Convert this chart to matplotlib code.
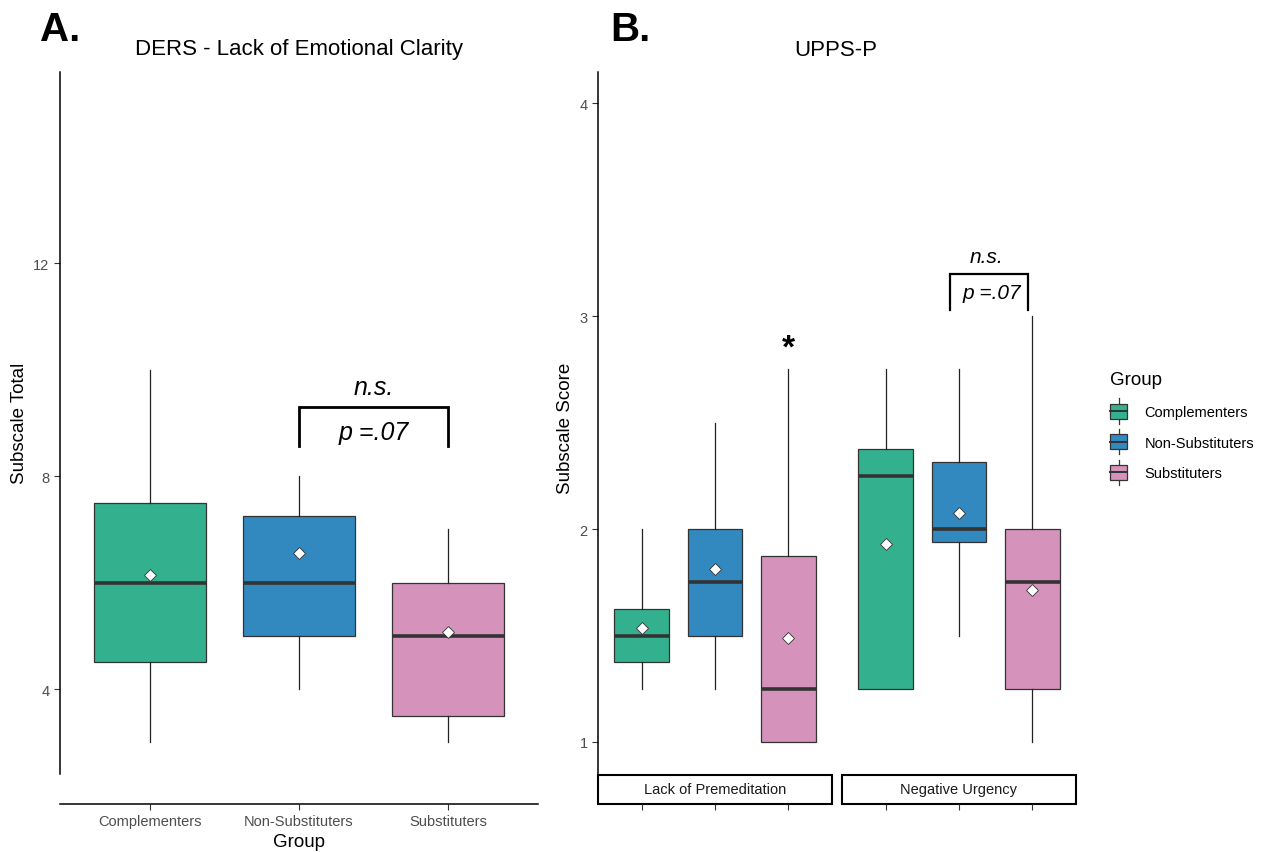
import matplotlib
matplotlib.use("Agg")
import matplotlib.pyplot as plt
from matplotlib.patches import Rectangle, Patch
from matplotlib.lines import Line2D
from matplotlib.legend_handler import HandlerBase

plt.rcParams['font.family'] = ['Liberation Sans', 'DejaVu Sans']

groups = ["Complementers", "Non-Substituters", "Substituters"]
colors = ["#33B08D", "#3189C0", "#D592BA"]

# panel A: DERS - Lack of Emotional Clarity (q1, median, q3, whisker low, whisker high, mean)
ders_q1 = [4.5, 5.0, 3.5]
ders_med = [6.0, 6.0, 5.0]
ders_q3 = [7.5, 7.25, 6.0]
ders_lo = [3.0, 4.0, 3.0]
ders_hi = [10.0, 8.0, 7.0]
ders_mean = [6.14, 6.55, 5.08]

# panel B: UPPS-P facets
facets = ["Lack of Premeditation", "Negative Urgency"]
upps_q1 = [[1.375, 1.5, 1.0], [1.25, 1.9375, 1.25]]
upps_med = [[1.5, 1.75, 1.25], [2.25, 2.0, 1.75]]
upps_q3 = [[1.625, 2.0, 1.875], [2.375, 2.3125, 2.0]]
upps_lo = [[1.25, 1.25, 1.0], [1.25, 1.5, 1.0]]
upps_hi = [[2.0, 2.5, 2.75], [2.75, 2.75, 3.0]]
upps_mean = [[1.535, 1.81, 1.49], [1.93, 2.075, 1.715]]

W, H = 1262, 853
fig = plt.figure(figsize=(W / 100, H / 100), dpi=100)

def px(x0, y_top, x1, y_bot):
    return [x0 / W, 1 - y_bot / H, (x1 - x0) / W, (y_bot - y_top) / H]

def draw_boxes(ax, q1, med, q3, lo, hi, mean):
    stats = []
    for i in range(3):
        stats.append(dict(q1=q1[i], med=med[i], q3=q3[i], whislo=lo[i],
                          whishi=hi[i], mean=mean[i], fliers=[]))
    bp = ax.bxp(stats, positions=[1, 2, 3], widths=0.75, patch_artist=True,
                showcaps=False, showmeans=True, showfliers=False,
                boxprops=dict(edgecolor="#333333", linewidth=0.9),
                whiskerprops=dict(color="#222222", linewidth=0.9),
                medianprops=dict(color="#333333", linewidth=2.6),
                meanprops=dict(marker="D", markerfacecolor="white",
                               markeredgecolor="#333333", markeredgewidth=0.6,
                               markersize=6.3))
    for patch, c in zip(bp["boxes"], colors):
        patch.set_facecolor(c)
    for m in bp["means"]:
        m.set_zorder(5)

tick_col = "#4D4D4D"

# ---------- panel A ----------
axA = fig.add_axes(px(60, 73, 538, 805))
draw_boxes(axA, ders_q1, ders_med, ders_q3, ders_lo, ders_hi, ders_mean)
axA.set_xlim(0.4, 3.6)
axA.set_ylim(1.84, 15.59)
axA.set_yticks([4, 8, 12])
axA.set_xticks([1, 2, 3])
axA.set_xticklabels(groups)
for s in ["top", "right"]:
    axA.spines[s].set_visible(False)
axA.spines["left"].set_bounds(2.4, 15.59)
axA.spines["left"].set_linewidth(1.1)
axA.spines["bottom"].set_linewidth(1.1)
axA.tick_params(axis="both", colors="#333333", labelcolor=tick_col,
                labelsize=10.5, length=4, width=0.8)
axA.tick_params(axis="x", pad=3)

# significance bracket A
axA.plot([2, 2, 3, 3], [8.57, 9.30, 9.30, 8.57], color="black", lw=2.0,
         solid_joinstyle="miter")
axA.text(2.5, 9.67, "n.s.", ha="center", va="center", fontsize=18, style="italic")
axA.text(2.5, 8.83, "p =.07", ha="center", va="center", fontsize=18, style="italic")

fig.text(299 / W, 1 - 50 / H, "DERS - Lack of Emotional Clarity", ha="center",
         va="center", fontsize=16)
fig.text(40 / W, 1 - 30 / H, "A.", ha="left", va="center", fontsize=29,
         fontweight="bold")
fig.text(20 / W, 1 - 423 / H, "Subscale Total", rotation=90, ha="center",
         va="center", fontsize=13.5)
fig.text(299 / W, 1 - 843 / H, "Group", ha="center", va="center", fontsize=13.5)

# ---------- panel B ----------
axes_b = [fig.add_axes(px(598, 73, 832, 776)), fig.add_axes(px(842, 73, 1076, 776))]
for k, ax in enumerate(axes_b):
    draw_boxes(ax, upps_q1[k], upps_med[k], upps_q3[k], upps_lo[k], upps_hi[k],
               upps_mean[k])
    ax.set_xlim(0.4, 3.6)
    ax.set_ylim(0.845, 4.146)
    ax.set_xticks([1, 2, 3])
    ax.set_xticklabels([])
    for s in ["top", "right", "bottom"]:
        ax.spines[s].set_visible(False)
    ax.spines["bottom"].set_position(("outward", 21))
    ax.tick_params(axis="x", colors="#333333", length=4.3, width=0.8)
    if k == 0:
        ax.set_yticks([1, 2, 3, 4])
        ax.spines["left"].set_linewidth(1.1)
        ax.tick_params(axis="y", colors="#333333", labelcolor=tick_col,
                       labelsize=10.5, length=4, width=0.8)
    else:
        ax.spines["left"].set_visible(False)
        ax.set_yticks([])
    strip = Rectangle((0, -29 / 703), 1, 29 / 703, transform=ax.transAxes,
                      facecolor="white", edgecolor="black", lw=1.5, clip_on=False)
    ax.add_patch(strip)
    ax.text(0.5, -14.5 / 703, facets[k], transform=ax.transAxes, ha="center",
            va="center", fontsize=10.5, color="#1A1A1A")

axB1, axB2 = axes_b
axB1.text(3, 2.85, "*", ha="center", va="center", fontsize=24, fontweight="bold")
axB2.plot([1.88, 1.88, 2.94, 2.94], [3.03, 3.197, 3.197, 3.03], color="black",
          lw=1.6, solid_joinstyle="miter")
axB2.text(2.38, 3.28, "n.s.", ha="center", va="center", fontsize=15, style="italic")
axB2.text(2.45, 3.11, "p =.07", ha="center", va="center", fontsize=15, style="italic")

fig.text(836 / W, 1 - 50 / H, "UPPS-P", ha="center", va="center", fontsize=16)
fig.text(610 / W, 1 - 30 / H, "B.", ha="left", va="center", fontsize=29,
         fontweight="bold")
fig.text(566 / W, 1 - 428 / H, "Subscale Score", rotation=90, ha="center",
         va="center", fontsize=13.5)


# ---------- legend ----------
class BoxKey(HandlerBase):
    def create_artists(self, legend, orig_handle, xd, yd, width, height,
                       fontsize, trans):
        fc = orig_handle.get_facecolor()
        x0, y0 = -xd, -yd
        cx = x0 + width / 2
        stub = height * 0.35
        wlo = Line2D([cx, cx], [y0 - stub, y0], color="#333333", lw=0.9,
                     transform=trans)
        whi = Line2D([cx, cx], [y0 + height, y0 + height + stub], color="#333333",
                     lw=0.9, transform=trans)
        box = Rectangle((x0, y0), width, height, facecolor=fc,
                        edgecolor="#333333", lw=0.9, transform=trans)
        med = Line2D([x0, x0 + width], [y0 + height / 2] * 2, color="#333333",
                     lw=1.4, transform=trans)
        return [wlo, whi, box, med]


handles = [Patch(facecolor=c) for c in colors]
leg = fig.legend(handles, groups, title="Group", loc="upper left",
                 bbox_to_anchor=(1103 / W, 1 - 365 / H), frameon=False,
                 handler_map={Patch: BoxKey()}, fontsize=10.5,
                 title_fontsize=13.5, handlelength=1.15, handleheight=1.2,
                 handletextpad=1.2, labelspacing=1.05, borderpad=0,
                 alignment="left")

fig.savefig("out.png", dpi=100)
